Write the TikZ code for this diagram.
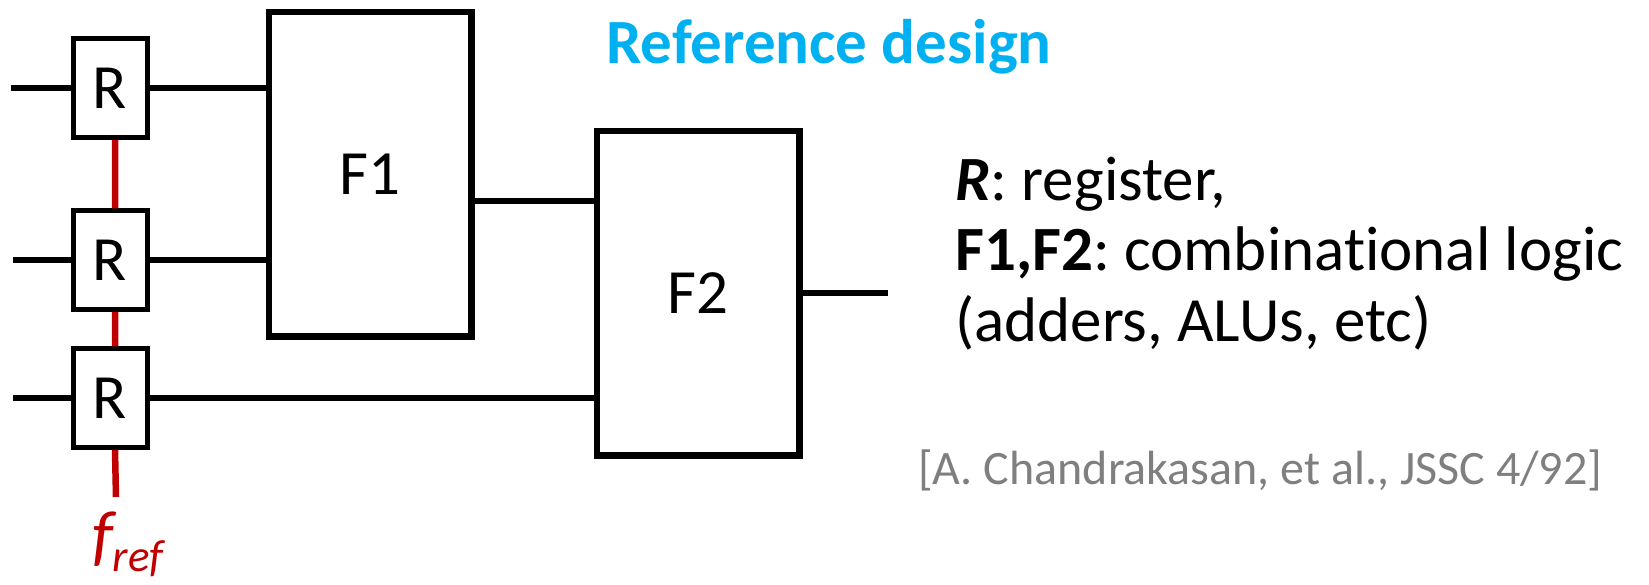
\documentclass[tikz,border=0pt]{standalone}
\usepackage{fontspec}
\setmainfont{Carlito}[Ligatures=NoCommon]
\frenchspacing
\definecolor{refblue}{HTML}{00B0F0}
\definecolor{clkred}{HTML}{C00000}
\definecolor{citegray}{HTML}{7F7F7F}
\tikzset{
  reg/.style={draw, line width=5pt, minimum width=74pt, minimum height=98.5pt,
    inner sep=0pt, font=\fontsize{63}{70}\selectfont},
  logic/.style={draw, line width=6.5pt, minimum width=202.5pt, minimum height=324.5pt,
    inner sep=0pt, font=\fontsize{63}{70}\selectfont},
  wire/.style={line width=5.5pt},
  clk/.style={line width=6.5pt, clkred},
  keytext/.style={anchor=base west, inner sep=0pt, font=\fontsize{63}{70}\selectfont}
}
\begin{document}
\begin{tikzpicture}[x=1pt, y=-1pt]
  \useasboundingbox (0,0) rectangle (1649,584);
  % registers and logic blocks
  \node [reg] (R1) at (110,88) {R};
  \node [reg] (R2) at (110,260) {R};
  \node [reg] (R3) at (110,398) {R};
  \node [logic] (F1) at (370,174) {F1};
  \node [logic] (F2) at (698,293) {F2};
  \coordinate (in1) at (11,88);
  \coordinate (in2) at (13,260);
  \coordinate (in3) at (13,398);
  \coordinate (f1out) at ([yshift=-27pt]F1.east);
  \coordinate (out) at (888,293);
  \coordinate (clkend) at (116,497);
  % data wires
  \draw [wire] (in1) -- (R1.west);
  \draw [wire] (in2) -- (R2.west);
  \draw [wire] (in3) -- (R3.west);
  \draw [wire] (R1.east) -- (R1.east -| F1.west);
  \draw [wire] (R2.east) -- (R2.east -| F1.west);
  \draw [wire] (f1out) -- (f1out -| F2.west);
  \draw [wire] (R3.east) -- (R3.east -| F2.west);
  \draw [wire] (F2.east) -- (out);
  % clock
  \draw [clk] ([xshift=5pt]R1.south) -- ([xshift=5pt]R2.north)
              ([xshift=5pt]R2.south) -- ([xshift=5pt]R3.north)
              ([xshift=5pt]R3.south) -- (clkend);
  \node [clkred, anchor=base west, inner sep=0pt, font=\itshape\fontsize{68}{70}\selectfont]
    (fref) at (92,558) {f\raisebox{-13pt}{\fontsize{45}{46}\selectfont ref}};
  % texts
  \node [refblue, anchor=base, inner sep=0pt, font=\bfseries\fontsize{63}{70}\selectfont]
    (title) at (829,63) {Reference design};
  \node [keytext] (key1) at (955,200) {\textbf{\textit{R}}: register,};
  \node [keytext] (key2) at (955,270) {\textbf{F1,F2}: combinational logic};
  \node [keytext] (key3) at (955,341) {(adders, ALUs, etc)};
  \node [citegray, anchor=base west, inner sep=0pt, font=\fontsize{48}{50}\selectfont]
    (cite) at (918,484) {[A. Chandrakasan, et al., JSSC 4/92]};
\end{tikzpicture}
\end{document}
